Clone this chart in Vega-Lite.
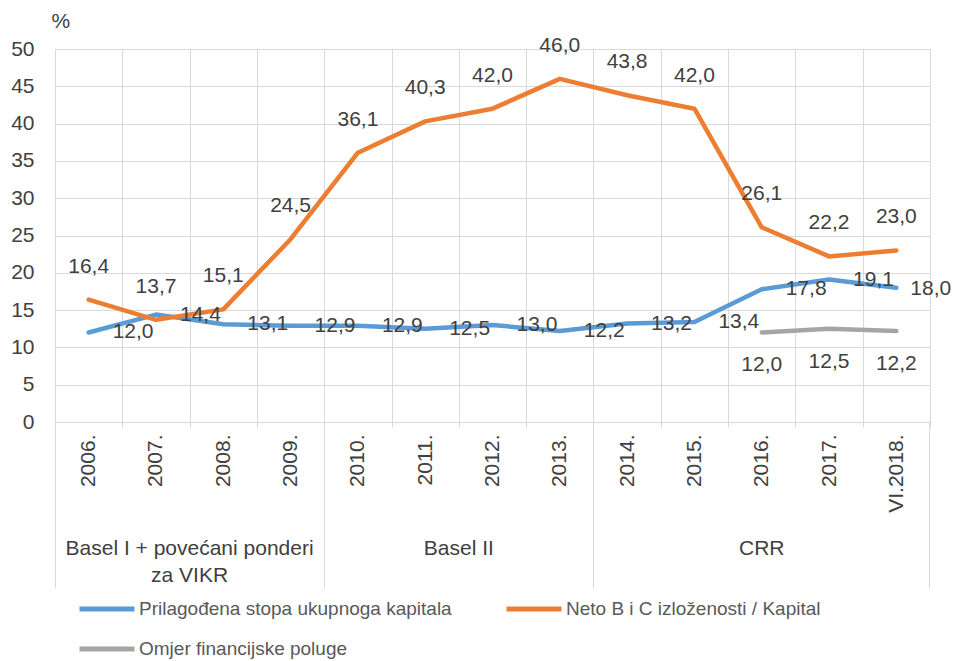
{
  "$schema": "https://vega.github.io/schema/vega-lite/v6.json",
  "width": 875,
  "height": 373,
  "autosize": {"type": "none"},
  "padding": {"left": 55, "top": 49, "right": 25, "bottom": 239},
  "background": "white",
  "config": {
    "locale": {"number": {"decimal": ",", "thousands": ".", "grouping": [3], "currency": ["", " €"]}},
    "view": {"stroke": "#d9d9d9", "strokeWidth": 1},
    "font": "Liberation Sans"
  },
  "data": {
    "values": [
      {"period": "2006.", "series": "Prilagođena stopa ukupnoga kapitala", "value": 12.0},
      {"period": "2007.", "series": "Prilagođena stopa ukupnoga kapitala", "value": 14.4},
      {"period": "2008.", "series": "Prilagođena stopa ukupnoga kapitala", "value": 13.1},
      {"period": "2009.", "series": "Prilagođena stopa ukupnoga kapitala", "value": 12.9},
      {"period": "2010.", "series": "Prilagođena stopa ukupnoga kapitala", "value": 12.9},
      {"period": "2011.", "series": "Prilagođena stopa ukupnoga kapitala", "value": 12.5},
      {"period": "2012.", "series": "Prilagođena stopa ukupnoga kapitala", "value": 13.0},
      {"period": "2013.", "series": "Prilagođena stopa ukupnoga kapitala", "value": 12.2},
      {"period": "2014.", "series": "Prilagođena stopa ukupnoga kapitala", "value": 13.2},
      {"period": "2015.", "series": "Prilagođena stopa ukupnoga kapitala", "value": 13.4},
      {"period": "2016.", "series": "Prilagođena stopa ukupnoga kapitala", "value": 17.8},
      {"period": "2017.", "series": "Prilagođena stopa ukupnoga kapitala", "value": 19.1},
      {"period": "VI.2018.", "series": "Prilagođena stopa ukupnoga kapitala", "value": 18.0},
      {"period": "2006.", "series": "Neto B i C izloženosti / Kapital", "value": 16.4},
      {"period": "2007.", "series": "Neto B i C izloženosti / Kapital", "value": 13.7},
      {"period": "2008.", "series": "Neto B i C izloženosti / Kapital", "value": 15.1},
      {"period": "2009.", "series": "Neto B i C izloženosti / Kapital", "value": 24.5},
      {"period": "2010.", "series": "Neto B i C izloženosti / Kapital", "value": 36.1},
      {"period": "2011.", "series": "Neto B i C izloženosti / Kapital", "value": 40.3},
      {"period": "2012.", "series": "Neto B i C izloženosti / Kapital", "value": 42.0},
      {"period": "2013.", "series": "Neto B i C izloženosti / Kapital", "value": 46.0},
      {"period": "2014.", "series": "Neto B i C izloženosti / Kapital", "value": 43.8},
      {"period": "2015.", "series": "Neto B i C izloženosti / Kapital", "value": 42.0},
      {"period": "2016.", "series": "Neto B i C izloženosti / Kapital", "value": 26.1},
      {"period": "2017.", "series": "Neto B i C izloženosti / Kapital", "value": 22.2},
      {"period": "VI.2018.", "series": "Neto B i C izloženosti / Kapital", "value": 23.0},
      {"period": "2016.", "series": "Omjer financijske poluge", "value": 12.0},
      {"period": "2017.", "series": "Omjer financijske poluge", "value": 12.5},
      {"period": "VI.2018.", "series": "Omjer financijske poluge", "value": 12.2}
    ]
  },
  "encoding": {
    "y": {
      "field": "value",
      "type": "quantitative",
      "scale": {"domain": [0, 50], "nice": false, "zero": true},
      "axis": {
        "values": [0, 5, 10, 15, 20, 25, 30, 35, 40, 45, 50],
        "title": "%",
        "titleAngle": 0,
        "titleAlign": "left",
        "titleBaseline": "alphabetic",
        "titleX": -4,
        "titleY": -22,
        "titleFontSize": 21,
        "titleFontWeight": "normal",
        "titleColor": "#404040",
        "titleFont": "Liberation Sans",
        "labelFont": "Liberation Sans",
        "labelFontSize": 21,
        "labelColor": "#404040",
        "labelPadding": 21,
        "ticks": false,
        "domain": false,
        "grid": true,
        "gridColor": "#d9d9d9",
        "gridWidth": 1
      }
    }
  },
  "layer": [
    {
      "mark": {"type": "line", "strokeWidth": 4.5, "strokeCap": "round", "strokeJoin": "round"},
      "encoding": {
        "x": {
          "field": "period", "type": "nominal", "sort": null, "bandPosition": 0.5,
          "scale": {"type": "band", "paddingInner": 0, "paddingOuter": 0,
            "domain": ["2006.", "2007.", "2008.", "2009.", "2010.", "2011.", "2012.", "2013.", "2014.", "2015.", "2016.", "2017.", "VI.2018."]},
          "axis": {
            "orient": "bottom", "title": null, "tickBand": "extent",
            "labelAngle": -90, "labelAlign": "right", "labelBaseline": "middle",
            "labelPadding": 7, "tickSize": 5, "tickColor": "#d9d9d9",
            "domainColor": "#d9d9d9", "grid": true, "gridColor": "#d9d9d9",
            "labelFont": "Liberation Sans", "labelFontSize": 21, "labelColor": "#404040",
            "labelOverlap": false
          }
        },
        "color": {
          "field": "series", "type": "nominal",
          "scale": {
            "domain": ["Prilagođena stopa ukupnoga kapitala", "Neto B i C izloženosti / Kapital", "Omjer financijske poluge"],
            "range": ["#5B9BD5", "#ED7D31", "#A5A5A5"]
          },
          "legend": {
            "orient": "none", "legendX": 22, "legendY": 530,
            "direction": "horizontal", "columns": 2, "title": null,
            "symbolType": "stroke", "symbolSize": 3025, "symbolStrokeWidth": 5,
            "labelFont": "Liberation Sans", "labelFontSize": 19, "labelColor": "#595959",
            "labelOffset": 2, "columnPadding": 44, "rowPadding": -10, "labelLimit": 400
          }
        }
      }
    },
    {
      "transform": [{"filter": "datum.series === 'Prilagođena stopa ukupnoga kapitala' && datum.period !== 'VI.2018.'"}],
      "mark": {"type": "text", "align": "left", "baseline": "middle", "dx": 24, "fontSize": 21, "color": "#404040", "font": "Liberation Sans"},
      "encoding": {
        "text": {"field": "value", "type": "quantitative", "format": ".1f"},
        "x": {
          "field": "period", "type": "nominal", "sort": null, "bandPosition": 0.5,
          "scale": {"type": "band", "paddingInner": 0, "paddingOuter": 0,
            "domain": ["2006.", "2007.", "2008.", "2009.", "2010.", "2011.", "2012.", "2013.", "2014.", "2015.", "2016.", "2017.", "VI.2018."]},
          "axis": {
            "orient": "bottom", "title": null, "bandPosition": 0,
            "values": ["2006.", "2010.", "2014."],
            "tickSize": 166, "tickColor": "#d9d9d9", "labels": false, "domain": false, "grid": false
          }
        }
      }
    },
    {
      "transform": [{"filter": "datum.series === 'Prilagođena stopa ukupnoga kapitala' && datum.period === 'VI.2018.'"}],
      "mark": {"type": "text", "align": "left", "baseline": "middle", "dx": 14, "dy": 1, "fontSize": 21, "color": "#404040", "font": "Liberation Sans"},
      "encoding": {
        "text": {"field": "value", "type": "quantitative", "format": ".1f"},
        "x": {
          "field": "period", "type": "nominal", "sort": null, "bandPosition": 0.5,
          "scale": {"type": "band", "paddingInner": 0, "paddingOuter": 0,
            "domain": ["2006.", "2007.", "2008.", "2009.", "2010.", "2011.", "2012.", "2013.", "2014.", "2015.", "2016.", "2017.", "VI.2018."]},
          "axis": null
        }
      }
    },
    {
      "transform": [{"filter": "datum.series === 'Neto B i C izloženosti / Kapital'"}],
      "mark": {"type": "text", "align": "center", "baseline": "middle", "dy": -33, "fontSize": 21, "color": "#404040", "font": "Liberation Sans"},
      "encoding": {
        "text": {"field": "value", "type": "quantitative", "format": ".1f"},
        "x": {
          "field": "period", "type": "nominal", "sort": null, "bandPosition": 0.5,
          "scale": {"type": "band", "paddingInner": 0, "paddingOuter": 0,
            "domain": ["2006.", "2007.", "2008.", "2009.", "2010.", "2011.", "2012.", "2013.", "2014.", "2015.", "2016.", "2017.", "VI.2018."]},
          "axis": {
            "orient": "bottom", "title": null, "bandPosition": 1,
            "values": ["2007.", "2011.", "VI.2018."],
            "tickSize": 166, "tickColor": "#d9d9d9",
            "tickOpacity": {"condition": {"test": "datum.value === 'VI.2018.'", "value": 1}, "value": 0},
            "labelExpr": "datum.value === '2007.' ? ['Basel I + povećani ponderi', 'za VIKR'] : (datum.value === '2011.' ? 'Basel II' : '')",
            "labelPadding": -51, "labelBaseline": "top", "labelAlign": "center", "labelAngle": 0,
            "labelOffset": 33.6,
            "labelLineHeight": 27, "labelFont": "Liberation Sans", "labelFontSize": 21, "labelColor": "#404040",
            "labelOverlap": false, "labelBound": false, "labelFlush": false, "labelLimit": 400,
            "domain": false, "grid": false
          }
        }
      }
    },
    {
      "transform": [{"filter": "datum.series === 'Omjer financijske poluge'"}],
      "mark": {"type": "text", "align": "center", "baseline": "middle", "dy": 33, "fontSize": 21, "color": "#404040", "font": "Liberation Sans"},
      "encoding": {
        "text": {"field": "value", "type": "quantitative", "format": ".1f"},
        "x": {
          "field": "period", "type": "nominal", "sort": null, "bandPosition": 0.5,
          "scale": {"type": "band", "paddingInner": 0, "paddingOuter": 0,
            "domain": ["2006.", "2007.", "2008.", "2009.", "2010.", "2011.", "2012.", "2013.", "2014.", "2015.", "2016.", "2017.", "VI.2018."]},
          "axis": {
            "orient": "bottom", "title": null, "bandPosition": 0.5,
            "values": ["2016."], "ticks": false,
            "labelExpr": "'CRR'",
            "labelPadding": 115, "labelBaseline": "top", "labelAlign": "center", "labelAngle": 0,
            "labelFont": "Liberation Sans", "labelFontSize": 21, "labelColor": "#404040",
            "domain": false, "grid": false
          }
        }
      }
    }
  ],
  "resolve": {"axis": {"x": "independent"}}
}
